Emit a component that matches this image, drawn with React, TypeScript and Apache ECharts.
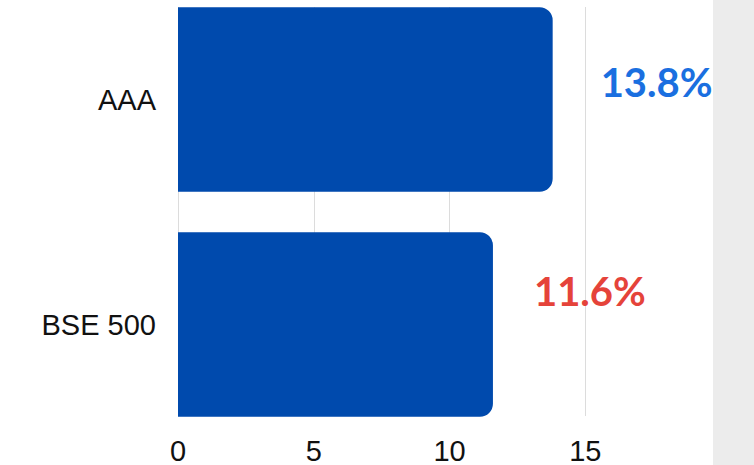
import React, { useEffect, useRef } from "react";
import * as echarts from "echarts";

const categories = ["AAA", "BSE 500"];
const returnsPct = [13.8, 11.6];
const labelColors = ["#1a6fe0", "#e5433a"];
const xTicks = [0, 5, 10, 15, 20];

const SHIFT = 13;

export default function App() {
  const ref = useRef<HTMLDivElement>(null);
  useEffect(() => {
    if (!ref.current) return;
    const chart = echarts.init(ref.current, null, { renderer: "svg" });
    const labelOffsets = [
      [48, -18],
      [41, -34],
    ];
    const option: any = {
      animation: false,
      backgroundColor: "#ffffff",
      grid: [
        { left: 178, right: 33, top: 7 + SHIFT, bottom: 49 },
        { left: 178, right: 33, top: 0, bottom: 28 },
      ],
      xAxis: [
        {
          type: "value",
          gridIndex: 0,
          min: xTicks[0],
          max: xTicks[xTicks.length - 1],
          interval: 5,
          axisLine: { show: false },
          axisTick: { show: false },
          splitLine: { show: true, lineStyle: { color: "#dcdcdc", width: 1 } },
          axisLabel: {
            showMaxLabel: false,
            margin: 20,
            color: "#111111",
            fontSize: 29,
            fontFamily: "Liberation Sans, Arial, sans-serif",
          },
        },
        {
          type: "value",
          gridIndex: 1,
          min: xTicks[0],
          max: xTicks[xTicks.length - 1],
          interval: 5,
          show: false,
          splitLine: { show: false },
        },
      ],
      yAxis: [
        { type: "value", gridIndex: 0, show: false, splitLine: { show: false } },
        {
          type: "category",
          gridIndex: 1,
          data: categories,
          inverse: true,
          axisLine: { show: false },
          axisTick: { show: false },
          splitLine: { show: false },
          axisLabel: {
            margin: 22,
            color: "#111111",
            fontSize: 29,
            fontFamily: "Liberation Sans, Arial, sans-serif",
          },
        },
      ],
      series: [
        {
          type: "bar",
          xAxisIndex: 1,
          yAxisIndex: 1,
          barCategoryGap: "18%",
          data: returnsPct.map((v, i) => ({
            value: v,
            label: {
              show: true,
              position: "right",
              distance: 0,
              offset: labelOffsets[i],
              formatter: v.toFixed(1) + "%",
              color: labelColors[i],
              fontSize: 40,
              fontWeight: "bold",
              fontFamily: "Lato, sans-serif",
            },
          })),
          itemStyle: { color: "#004aad", borderRadius: [0, 13, 13, 0] },
        },
      ],
      graphic: [
        {
          type: "rect",
          right: 0,
          top: 0,
          z: 100,
          shape: { width: 41, height: 465 + SHIFT },
          style: { fill: "#ececec" },
        },
      ],
    };
    chart.setOption(option);
    return () => chart.dispose();
  }, []);
  return (
    <div
      ref={ref}
      style={{ width: 754, height: 465 + SHIFT, position: "fixed", left: 0, top: -SHIFT }}
    />
  );
}
